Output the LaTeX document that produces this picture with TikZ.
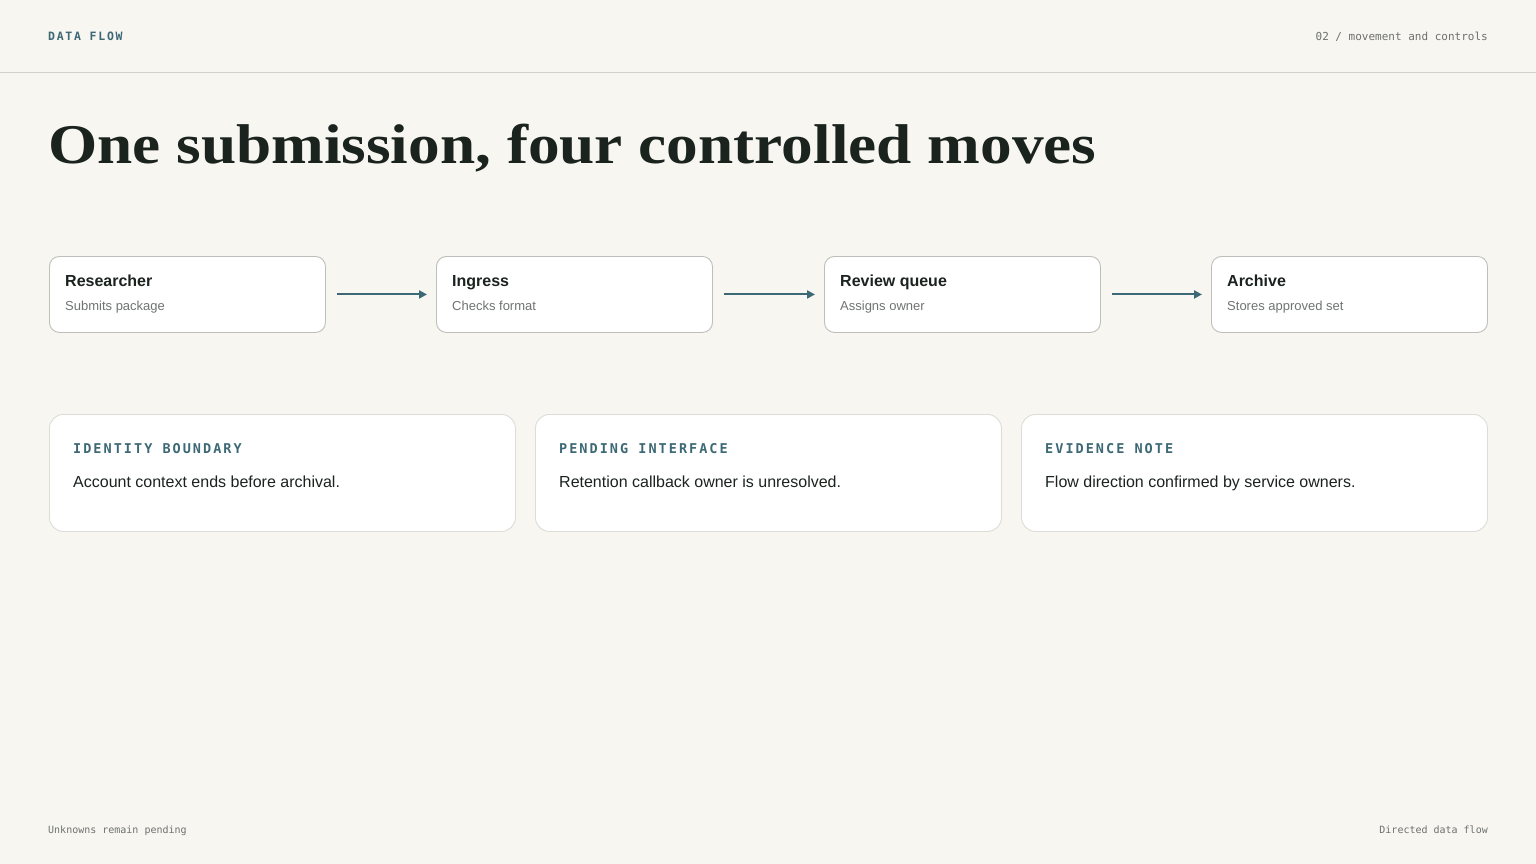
\documentclass[tikz,border=0pt]{standalone}
\usepackage{fontspec}
\setmainfont{Liberation Sans}
\newfontfamily\titlefont[FakeStretch=1.13]{Liberation Serif}
\newfontfamily\monofont{DejaVu Sans Mono}
\newfontfamily\monospaced[LetterSpace=15]{DejaVu Sans Mono}
\usetikzlibrary{arrows.meta}
\definecolor{bg}{HTML}{F7F6F1}
\definecolor{rule}{HTML}{D2D2CD}
\definecolor{ink}{HTML}{1B231F}
\definecolor{sub}{HTML}{707471}
\definecolor{teal}{HTML}{3D6875}
\definecolor{meta}{HTML}{6E716F}
\definecolor{edgeA}{HTML}{BEBFBA}
\definecolor{edgeB}{HTML}{DDDDD8}
\tikzset{
  flowbox/.style={draw=edgeA, line width=0.9pt, fill=white, rounded corners=10pt, minimum width=276pt, minimum height=76pt, anchor=north west, inner sep=0pt},
  notebox/.style={draw=edgeB, line width=0.9pt, fill=white, rounded corners=14pt, minimum width=466pt, minimum height=117pt, anchor=north west, inner sep=0pt},
  boxtitle/.style={anchor=base west, inner sep=0pt, text=ink, font=\fontsize{16}{19}\selectfont\bfseries},
  boxsub/.style={anchor=base west, inner sep=0pt, text=sub, font=\fontsize{13}{16}\selectfont},
  notelabel/.style={anchor=base west, inner sep=0pt, text=teal, font=\fontsize{13.5}{16}\selectfont\monospaced\bfseries},
  notebody/.style={anchor=base west, inner sep=0pt, text=ink, font=\fontsize{16}{19}\selectfont},
  flowarrow/.style={draw=teal, line width=2pt, -{Triangle[length=8pt,width=8pt]}, shorten <=11pt, shorten >=9pt},
  metatext/.style={inner sep=0pt, text=meta, font=\fontsize{11}{13}\selectfont\monofont},
  foot/.style={inner sep=0pt, text=meta, font=\fontsize{10}{12}\selectfont\monofont},
}
\begin{document}
\begin{tikzpicture}[x=1pt,y=-1pt]
\fill[bg] (0,0) rectangle (1536,864);
\useasboundingbox (0,0) rectangle (1536,864);
% header
\node[anchor=base west, inner sep=0pt, text=teal, font=\fontsize{11.5}{13}\selectfont\monospaced\bfseries] (hdr) at (48,41) {DATA FLOW};
\node[metatext, anchor=base east] (hdrr) at (1488,41) {02 / movement and controls};
\draw[rule, line width=1pt] (0,73) -- (1536,73);
% title
\node[anchor=base west, inner sep=0pt, text=ink, font=\fontsize{56}{62}\selectfont\titlefont\bfseries] (title) at (48,163) {One submission, four controlled moves};
% flow row
\node[flowbox] (r1) at (49,256) {};
\node[flowbox] (r2) at (436,256) {};
\node[flowbox] (r3) at (824,256) {};
\node[flowbox] (r4) at (1211,256) {};
\node[boxtitle] (t1) at (65,286) {Researcher};
\node[boxsub] (s1) at (65,310) {Submits package};
\node[boxtitle] (t2) at (452,286) {Ingress};
\node[boxsub] (s2) at (452,310) {Checks format};
\node[boxtitle] (t3) at (840,286) {Review queue};
\node[boxsub] (s3) at (840,310) {Assigns owner};
\node[boxtitle] (t4) at (1227,286) {Archive};
\node[boxsub] (s4) at (1227,310) {Stores approved set};
\draw[flowarrow] (r1.east) -- (r2.west);
\draw[flowarrow] (r2.east) -- (r3.west);
\draw[flowarrow] (r3.east) -- (r4.west);
% notes
\node[notebox] (n1) at (49,414) {};
\node[notebox] (n2) at (535,414) {};
\node[notebox] (n3) at (1021,414) {};
\node[notelabel] (l1) at (73,453) {IDENTITY BOUNDARY};
\node[notebody] (b1) at (73,487) {Account context ends before archival.};
\node[notelabel] (l2) at (559,453) {PENDING INTERFACE};
\node[notebody] (b2) at (559,487) {Retention callback owner is unresolved.};
\node[notelabel] (l3) at (1045,453) {EVIDENCE NOTE};
\node[notebody] (b3) at (1045,487) {Flow direction confirmed by service owners.};
% footer
\node[foot, anchor=base west] (f1) at (48,833) {Unknowns remain pending};
\node[foot, anchor=base east] (f2) at (1488,833) {Directed data flow};
\end{tikzpicture}
\end{document}
